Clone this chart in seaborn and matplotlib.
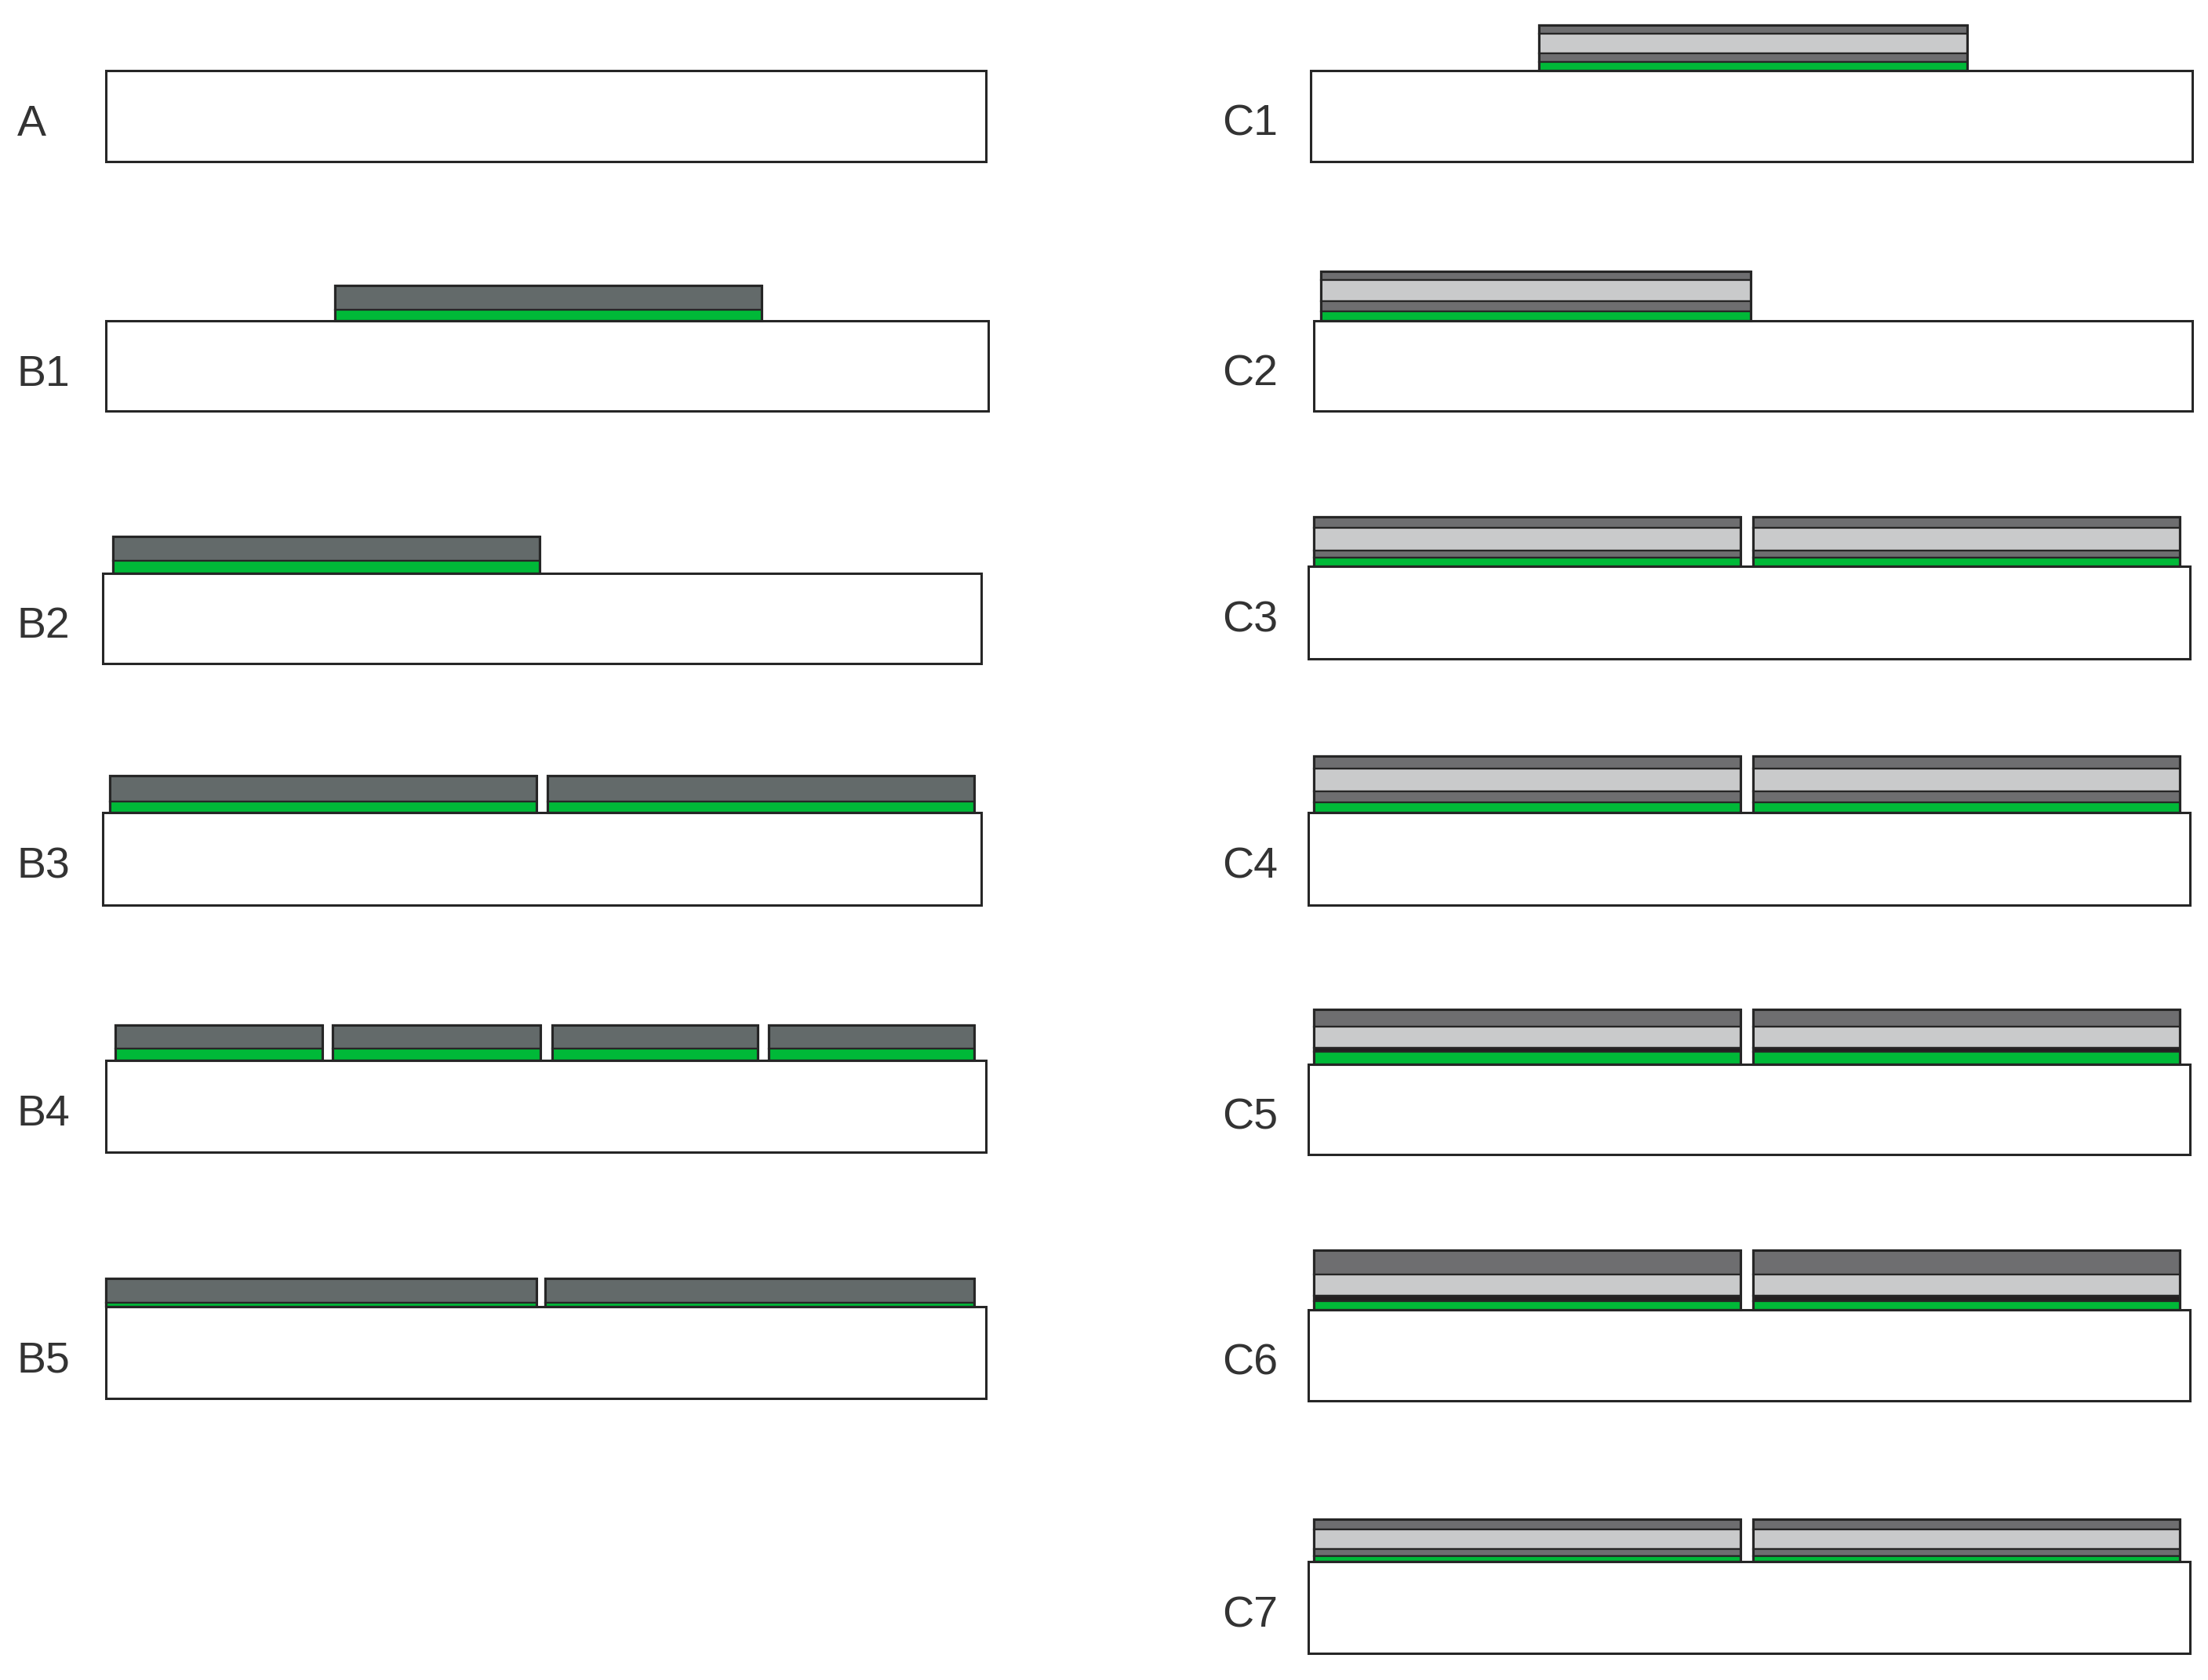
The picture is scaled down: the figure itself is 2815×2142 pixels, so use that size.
import matplotlib
matplotlib.use("Agg")
import matplotlib.pyplot as plt
import seaborn as sns

sns.set_theme(style="white")
plt.rcParams['font.family'] = ['Liberation Sans', 'DejaVu Sans']

S = 2815 / 1568.0  # coordinates below are read at 1568 px width

DARK_B = "#636a6a"
DARK_C = "#6e6e70"
LIGHT = "#c9cacb"
GREEN = "#00b938"
BLACK = "#231f20"
EDGE = "#262626"

labels = ["A", "B1", "B2", "B3", "B4", "B5",
          "C1", "C2", "C3", "C4", "C5", "C6", "C7"]
label_x = [12, 12, 12, 12, 12, 12,
           868, 868, 868, 868, 868, 868, 868]
substrates = [
    (75, 700, 50, 115), (75, 702, 228, 292), (73, 697, 407, 471),
    (73, 697, 577, 643), (75, 700, 753, 818), (75, 700, 928, 993),
    (931, 1557, 50, 115), (933, 1557, 228, 292), (929, 1555, 402, 468),
    (929, 1555, 577, 643), (929, 1555, 756, 820), (929, 1555, 930, 995),
    (929, 1555, 1109, 1174),
]
film_segments = [
    [],
    [(238, 541)],
    [(80, 383)],
    [(78, 381), (389, 692)],
    [(82, 229), (236, 384), (392, 538), (546, 692)],
    [(75, 381), (387, 692)],
    [(1093, 1397)],
    [(938, 1243)],
    [(933, 1236), (1245, 1548)],
    [(933, 1236), (1245, 1548)],
    [(933, 1236), (1245, 1548)],
    [(933, 1236), (1245, 1548)],
    [(933, 1236), (1245, 1548)],
]
# layer stacks, top to bottom: (thickness, colour)
stacks = [
    [],
    [(17, DARK_B), (8, GREEN)],
    [(17, DARK_B), (9, GREEN)],
    [(18, DARK_B), (8, GREEN)],
    [(17, DARK_B), (8, GREEN)],
    [(17, DARK_B), (3, GREEN)],
    [(6, DARK_C), (14, LIGHT), (6, DARK_C), (6, GREEN)],
    [(6, DARK_C), (15, LIGHT), (7, DARK_C), (7, GREEN)],
    [(8, DARK_C), (16, LIGHT), (5, DARK_C), (6, GREEN)],
    [(9, DARK_C), (16, LIGHT), (8, DARK_C), (7, GREEN)],
    [(12, DARK_C), (15, LIGHT), (3, BLACK), (9, GREEN)],
    [(17, DARK_C), (15, LIGHT), (4, BLACK), (6, GREEN)],
    [(7, DARK_C), (14, LIGHT), (5, DARK_C), (4, GREEN)],
]

fig = plt.figure(figsize=(28.15, 21.42), dpi=100)
ax = fig.add_axes([0, 0, 1, 1])
ax.set_xlim(0, 2815)
ax.set_ylim(2142, 0)
ax.axis("off")

for i, name in enumerate(labels):
    x0, x1, y0, y1 = substrates[i]
    ax.bar(x0 * S, (y1 - y0) * S, width=(x1 - x0) * S, bottom=y0 * S,
           align="edge", color="white", edgecolor=EDGE, linewidth=2.2, zorder=2)
    ax.text(label_x[i] * S, ((y0 + y1) / 2 + 6) * S, name, fontsize=40,
            color="#333333", ha="left", va="center")
    total = sum(t for t, _ in stacks[i])
    for (fx0, fx1) in film_segments[i]:
        y = y0 - total
        for t, c in stacks[i]:
            ax.bar(fx0 * S, t * S, width=(fx1 - fx0) * S, bottom=y * S,
                   align="edge", color=c, edgecolor=EDGE, linewidth=1.6, zorder=3)
            y += t
        ax.bar(fx0 * S, total * S, width=(fx1 - fx0) * S, bottom=(y0 - total) * S,
               align="edge", color="none", edgecolor=EDGE, linewidth=2.2, zorder=4)

fig.savefig("out.png", dpi=100, facecolor="white")
